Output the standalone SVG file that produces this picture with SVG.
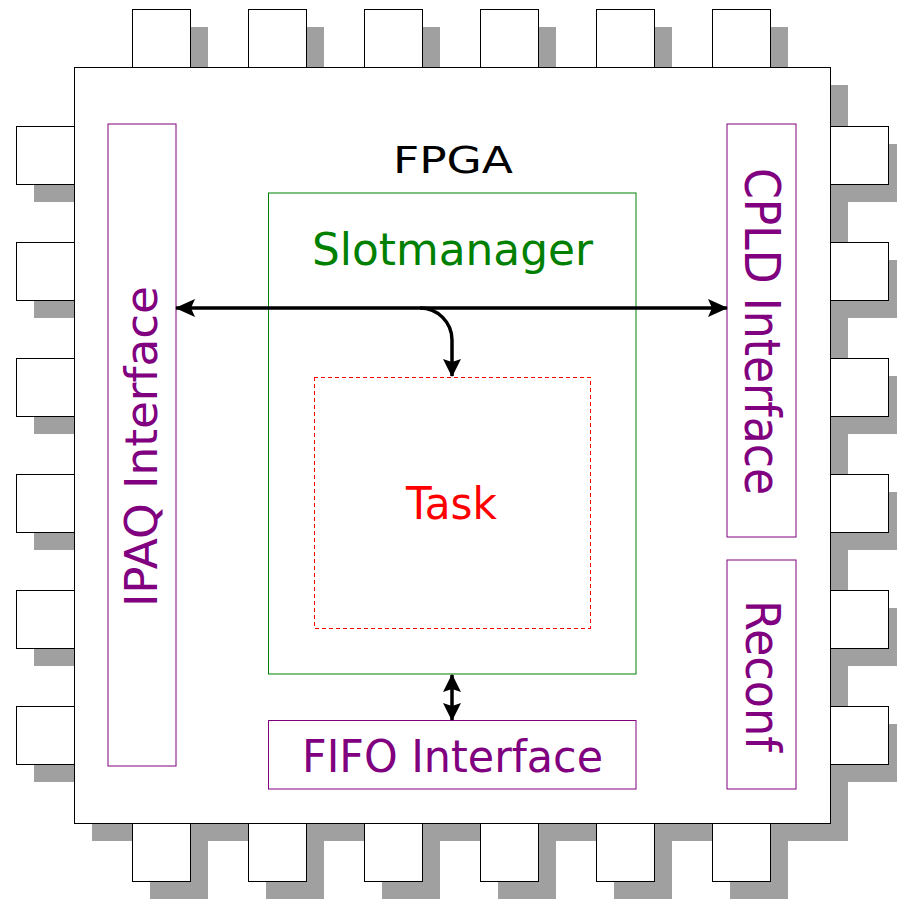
<svg xmlns="http://www.w3.org/2000/svg" width="897" height="900" viewBox="0 0 897 900">
  <style>
    .shadow { fill: #a0a0a0; stroke: none; }
    .pin { fill: #ffffff; stroke: #000000; stroke-width: 1; }
    .body { fill: #ffffff; stroke: #000000; stroke-width: 1; }
    .purple { fill: none; stroke: #800080; stroke-width: 1; }
    .green { fill: none; stroke: #008000; stroke-width: 1; }
    .dashed { fill: none; stroke: #ff0000; stroke-width: 1; stroke-dasharray: 4 3; shape-rendering: crispEdges; }
    .lbl { font-family: "DejaVu Sans", "Liberation Sans", sans-serif; }
    .conn { fill: none; stroke: #000000; stroke-width: 3.5; }
  </style>
  <defs>
    <marker id="ah" viewBox="0 0 20 18" refX="19" refY="9" markerWidth="20" markerHeight="18" markerUnits="userSpaceOnUse" orient="auto-start-reverse">
      <path d="M0,0 L20,9 L0,18 L4,9 Z" fill="#000000"/>
    </marker>
    <marker id="ahs" viewBox="0 0 18 18" refX="17" refY="9" markerWidth="18" markerHeight="18" markerUnits="userSpaceOnUse" orient="auto-start-reverse">
      <path d="M0,0 L18,9 L0,18 L3,9 Z" fill="#000000"/>
    </marker>
    <rect id="p" width="58" height="58"/>
  </defs>

  <g id="shadows" class="shadow">
    <rect x="92" y="85" width="756" height="756"/>
    <use href="#p" x="150" y="27"/><use href="#p" x="266" y="27"/><use href="#p" x="382" y="27"/>
    <use href="#p" x="498" y="27"/><use href="#p" x="614" y="27"/><use href="#p" x="730" y="27"/>
    <use href="#p" x="150" y="841"/><use href="#p" x="266" y="841"/><use href="#p" x="382" y="841"/>
    <use href="#p" x="498" y="841"/><use href="#p" x="614" y="841"/><use href="#p" x="730" y="841"/>
    <use href="#p" x="34" y="144"/><use href="#p" x="34" y="260"/><use href="#p" x="34" y="376"/>
    <use href="#p" x="34" y="492"/><use href="#p" x="34" y="608"/><use href="#p" x="34" y="724"/>
    <use href="#p" x="848" y="144"/><use href="#p" x="848" y="260"/><use href="#p" x="848" y="376"/>
    <use href="#p" x="848" y="492"/><use href="#p" x="848" y="608"/><use href="#p" x="848" y="724"/>
  </g>

  <g id="pins" class="pin">
    <use href="#p" x="132.5" y="9.5"/><use href="#p" x="248.5" y="9.5"/><use href="#p" x="364.5" y="9.5"/>
    <use href="#p" x="480.5" y="9.5"/><use href="#p" x="596.5" y="9.5"/><use href="#p" x="712.5" y="9.5"/>
    <use href="#p" x="132.5" y="823.5"/><use href="#p" x="248.5" y="823.5"/><use href="#p" x="364.5" y="823.5"/>
    <use href="#p" x="480.5" y="823.5"/><use href="#p" x="596.5" y="823.5"/><use href="#p" x="712.5" y="823.5"/>
    <use href="#p" x="16.5" y="126.5"/><use href="#p" x="16.5" y="242.5"/><use href="#p" x="16.5" y="358.5"/>
    <use href="#p" x="16.5" y="474.5"/><use href="#p" x="16.5" y="590.5"/><use href="#p" x="16.5" y="706.5"/>
    <use href="#p" x="830.5" y="126.5"/><use href="#p" x="830.5" y="242.5"/><use href="#p" x="830.5" y="358.5"/>
    <use href="#p" x="830.5" y="474.5"/><use href="#p" x="830.5" y="590.5"/><use href="#p" x="830.5" y="706.5"/>
  </g>

  <g id="fpga">
    <rect class="body" x="74.5" y="67.5" width="756" height="756"/>
    <text class="lbl" x="393" y="173" font-size="38" fill="#000000" textLength="120" lengthAdjust="spacingAndGlyphs">FPGA</text>
  </g>

  <g id="ipaq">
    <rect class="purple" x="108" y="124" width="68" height="642"/>
    <text class="lbl" transform="translate(157,607) rotate(-90)" x="0" y="0" font-size="44" fill="#800080" textLength="321" lengthAdjust="spacingAndGlyphs">IPAQ Interface</text>
  </g>

  <g id="cpld">
    <rect class="purple" x="727" y="124" width="69" height="413"/>
    <text class="lbl" transform="translate(745,168) rotate(90)" x="0" y="0" font-size="49" fill="#800080" textLength="327" lengthAdjust="spacingAndGlyphs">CPLD Interface</text>
  </g>

  <g id="reconf">
    <rect class="purple" x="727" y="560" width="69" height="229"/>
    <text class="lbl" transform="translate(746,600) rotate(90)" x="0" y="0" font-size="48" fill="#800080" textLength="152" lengthAdjust="spacingAndGlyphs">Reconf</text>
  </g>

  <g id="slotmanager">
    <rect class="green" x="268.5" y="193" width="367.5" height="481"/>
    <text class="lbl" x="312" y="265" font-size="44" fill="#008000" textLength="281" lengthAdjust="spacingAndGlyphs">Slotmanager</text>
  </g>

  <g id="task">
    <rect class="dashed" x="314" y="377" width="276" height="251"/>
    <text class="lbl" x="406" y="519" font-size="44" fill="#ff0000" textLength="91" lengthAdjust="spacingAndGlyphs">Task</text>
  </g>

  <g id="fifo">
    <rect class="purple" x="268.5" y="720.5" width="367.5" height="68.5"/>
    <text class="lbl" x="302" y="772" font-size="45" fill="#800080" textLength="301" lengthAdjust="spacingAndGlyphs">FIFO Interface</text>
  </g>

  <g id="connectors">
    <line class="conn" x1="176" y1="308" x2="727" y2="308" marker-start="url(#ah)" marker-end="url(#ah)"/>
    <path class="conn" d="M 420 308 A 32 32 0 0 1 452 340 L 452 376" marker-end="url(#ahs)"/>
    <line class="conn" x1="452" y1="675" x2="452" y2="720" marker-start="url(#ahs)" marker-end="url(#ahs)"/>
  </g>
</svg>
